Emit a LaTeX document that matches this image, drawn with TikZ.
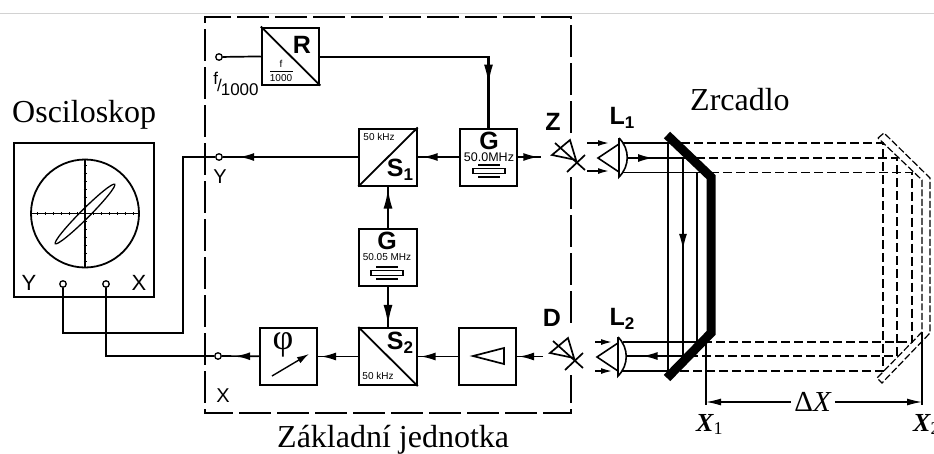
\documentclass[tikz,border=0pt]{standalone}
\usepackage{fontspec}
\setmainfont{Liberation Sans}
\newfontfamily\titlefont{Liberation Serif}
\usetikzlibrary{arrows.meta,decorations.markings}

\newcommand{\fsize}[1]{\fontsize{#1}{#1}\selectfont}
\newcommand{\lowidx}[1]{\raisebox{-4pt}{\fsize{17}#1}}

\tikzset{
  block/.style={draw, line width=2pt, fill=white, minimum width=57.5pt, minimum height=57pt, inner sep=0pt},
  term/.style={draw, circle, line width=1.3pt, fill=white, minimum size=6.5pt, inner sep=0pt},
  wire/.style={line width=1.7pt},
  wiretip/.style={postaction={decorate}, decoration={markings, mark=at position #1 with {\arrow{Latex[length=15pt,width=8pt]}}}},
  thicktip/.style={line width=2.2pt, postaction={decorate}, decoration={markings, mark=at position #1 with {\arrow{Latex[length=20pt,width=9pt]}}}},
  small tip/.style={line width=1.4pt, -{Latex[length=11pt,width=6pt]}},
  ghost/.style={line width=1.3pt, dash pattern=on 9pt off 4pt},
  heading/.style={anchor=base west, inner sep=0pt, font=\titlefont\fsize{32}},
  biglabel/.style={inner sep=0pt, font=\bfseries\fsize{25}},
  tinylabel/.style={inner sep=0pt, font=\fsize{10}},
  portlabel/.style={inner sep=0pt, font=\fsize{22}},
  optlabel/.style={inner sep=0pt, font=\titlefont\bfseries\itshape\fsize{26}},
  crystal/.pic={
    \draw[line width=1.4pt] (-16,-2.5) rectangle (16,2.5);
    \draw[line width=1.4pt] (-11,-6) -- (11,-6);
    \draw[line width=1.4pt] (-11,6) -- (11,6);
  },
  eye/.pic={
    \draw[line width=1.7pt] (-24,-5) -- (-6,-20) -- (0,0) -- cycle;
    \draw[line width=1.7pt] (-21,-17) -- (9,10);
    \draw[line width=1.7pt] (-9,12) -- (9,-5);
  },
  lens/.pic={
    \draw[line width=1.6pt] (21,-14) -- (0,0) -- (21,14);
    \draw[line width=1.6pt] (21,-20) -- (21,19) .. controls (32,8) and (32,-9) .. (21,-20);
  }
}

\begin{document}
\begin{tikzpicture}[x=1pt,y=-1pt]
  \useasboundingbox (0,0) rectangle (934,453);
  \draw[gray!35, line width=1pt] (0,13.5) -- (934,13.5);

  % Osciloskop
  \node[heading] (osctitle) at (12,122) {Osciloskop};
  \node[draw, line width=1.8pt, minimum width=140pt, minimum height=154pt, inner sep=0pt] (osc) at (84,220) {};
  \node[draw, circle, line width=1.8pt, minimum size=108pt, inner sep=0pt] (screen) at (85,213.5) {};
  \draw[line width=1.4pt] (screen.west) -- (screen.east);
  \draw[line width=1.4pt] (screen.north) -- (screen.south);
  \foreach \t in {-48,-40,...,48} {
    \draw[line width=.9pt] (85+\t,212) -- (85+\t,215);
    \draw[line width=.9pt] (83.5,213.5+\t) -- (86.5,213.5+\t);
  }
  \draw[line width=1.3pt] (85,214) circle [x radius=42pt, y radius=4.5pt, rotate=45];
  \node[portlabel] (oscylabel) at (29,283) {Y};
  \node[portlabel] (oscxlabel) at (139,283) {X};
  \node[term] (oscy) at (63,284) {};
  \node[term] (oscx) at (106,284) {};

  % Zakladni jednotka
  \draw[line width=1.6pt, dash pattern=on 32pt off 6pt] (571,133) -- (571,17) -- (205,17) -- (205,413) -- (571,413) -- (571,375);
  \draw[line width=1.6pt, dash pattern=on 32pt off 6pt] (571,177) -- (571,328);
  \node[heading] (unittitle) at (277,447) {Základní jednotka};

  \node[term] (ty) at (219,157) {};
  \node[term] (tx) at (218,356) {};
  \node[term] (tf) at (219,57) {};
  \node[inner sep=0pt, font=\fsize{20}] (ylabel) at (220,177) {Y};
  \node[inner sep=0pt, font=\fsize{20}] (xlabel) at (223,396) {X};
  \node[inner sep=0pt, font=\fsize{17}] (flabel) at (236,84) {\raisebox{7pt}{f}\kern-1pt/\kern-1pt\raisebox{-4pt}{1000}};

  \node[block] (rbox) at (290.5,56) {};
  \draw[line width=1.8pt] (rbox.north west) -- (rbox.south east);
  \node[biglabel] (rlabel) at (302,45) {R};
  \node[tinylabel] (rf) at (281,64) {f};
  \draw[line width=1pt] (270,71) -- (293,71);
  \node[tinylabel] (rk) at (281,78) {1000};

  \node[block] (gone) at (488.5,157) {};
  \node[biglabel] (goneg) at (489,141) {G};
  \node[inner sep=0pt, font=\fsize{12.5}] (gonef) at (489,157) {50.0MHz};
  \pic at (489,171) {crystal};

  \node[block] (sone) at (388,157) {};
  \draw[line width=1.8pt] (sone.south west) -- (sone.north east);
  \node[tinylabel] (sonef) at (379,137) {50 kHz};
  \node[biglabel] (sonel) at (400,170) {S\lowidx{1}};

  \node[block] (gtwo) at (388,257) {};
  \node[biglabel] (gtwog) at (387,241) {G};
  \node[tinylabel] (gtwof) at (387,257) {50.05 MHz};
  \pic at (387,273) {crystal};

  \node[block] (stwo) at (388,356.5) {};
  \draw[line width=1.8pt] (stwo.north west) -- (stwo.south east);
  \node[biglabel] (stwol) at (400,343) {S\lowidx{2}};
  \node[tinylabel] (stwof) at (378,376) {50 kHz};

  \node[block] (phi) at (288.5,356.5) {};
  \node[inner sep=0pt, font=\titlefont\fsize{36}] (philabel) at (283,345) {φ};
  \draw[line width=1.4pt, -{Latex[length=12pt,width=7pt]}] (272,376) -- (309,354);

  \node[block] (amp) at (487.5,356.5) {};
  \draw[line width=1.7pt] (473,356) -- (504,348) -- (504,364) -- cycle;

  \coordinate (wa) at (183,333);
  \coordinate (zout) at (541,157);
  \coordinate (dout) at (543,356.5);

  \draw[wire] (oscy) |- (wa) |- (ty);
  \draw[wire] (oscx) |- (tx);
  \draw[wire] (tf) -- (rbox);
  \draw[wire, thicktip=.82] (rbox.east |- tf) -| (gone.north);
  \draw[wire, wiretip=.88] (sone) -- (ty);
  \draw[wire, wiretip=.88] (gone) -- (sone);
  \draw[wire, wiretip=.88] (gone) -- (zout);
  \draw[wire, thicktip=.95] (gtwo) -- (sone);
  \draw[wire, thicktip=.95] (gtwo) -- (stwo);
  \draw[wire, wiretip=.93] (stwo) -- (phi);
  \draw[wire, wiretip=.64] (phi) -- (tx);
  \draw[wire, wiretip=.93] (amp) -- (stwo);
  \draw[wire, wiretip=.93] (dout) -- (amp);

  % Optika
  \node[biglabel] (zlabel) at (553,122) {Z};
  \node[biglabel] (dlabel) at (552,318) {D};
  \node[biglabel] (lone) at (622,118) {L\lowidx{1}};
  \node[biglabel] (ltwo) at (622,319) {L\lowidx{2}};
  \node[heading] (mirrortitle) at (690,110) {Zrcadlo};
  \pic at (576,160) {eye};
  \pic at (574,358) {eye};
  \pic at (598,158) {lens};
  \pic at (597,357) {lens};

  \foreach \y in {143,171} \draw[small tip] (587,\y) -- (609,\y);
  \foreach \y in {342,371} \draw[small tip] (595,\y) -- (612,\y);

  % rays, dashed = second mirror position
  \foreach \xa/\xb/\ya/\yb in {668/883/143/371, 683/897/158/356, 697/912/172.5/342} {
    \draw[ghost] (\xa,\ya) -- (\xb,\ya) -- (\xb,\yb) -- (\xa,\yb);
  }
  \draw[wire] (623,143) -- (668,143) -- (668,371) -- (622,371);
  \draw[wire] (623,172.5) -- (697,172.5) -- (697,342) -- (623,342);
  \draw[wire, postaction={decorate}, decoration={markings,
      mark=at position .084 with {\arrow{Latex[length=15pt,width=8pt]}},
      mark=at position .477 with {\arrow{Latex[length=16pt,width=8pt]}},
      mark=at position .95 with {\arrow{Latex[length=15pt,width=8pt]}}}]
    (627,158) -- (683,158) -- (683,356) -- (627,356);

  \draw[line width=9pt, miter limit=4] (667,135) -- (711,177) -- (711,333) -- (667,378);
  \draw[line width=1.2pt, dash pattern=on 7pt off 2.5pt] (878,138) -- (884,133) -- (930,178) -- (930,333) -- (882,383) -- (877,378) -- (922,332) -- (922,180) -- cycle;

  % Verschiebung
  \coordinate (xone) at (706,335);
  \coordinate (xtwo) at (922,332);
  \coordinate (xonea) at (706,402);
  \coordinate (xtwoa) at (922,402);
  \draw[line width=1.3pt] (xone) -- (706,405);
  \draw[line width=1.3pt] (xtwo) -- (922,405);
  \node[inner sep=3pt, font=\titlefont\fsize{29}] (deltax) at (813,402) {Δ\textit{X}};
  \draw[line width=1.3pt, -{Latex[length=15pt,width=7pt]}] (deltax) -- (xonea);
  \draw[line width=1.3pt, -{Latex[length=15pt,width=7pt]}] (deltax) -- (xtwoa);
  \node[optlabel, anchor=base west] (xonelabel) at (696,431) {X\raisebox{-3pt}{\fsize{18}\mdseries\upshape 1}};
  \node[optlabel, anchor=base west] (xtwolabel) at (913,431) {X\raisebox{-3pt}{\fsize{18}\mdseries\upshape 2}};
\end{tikzpicture}
\end{document}
